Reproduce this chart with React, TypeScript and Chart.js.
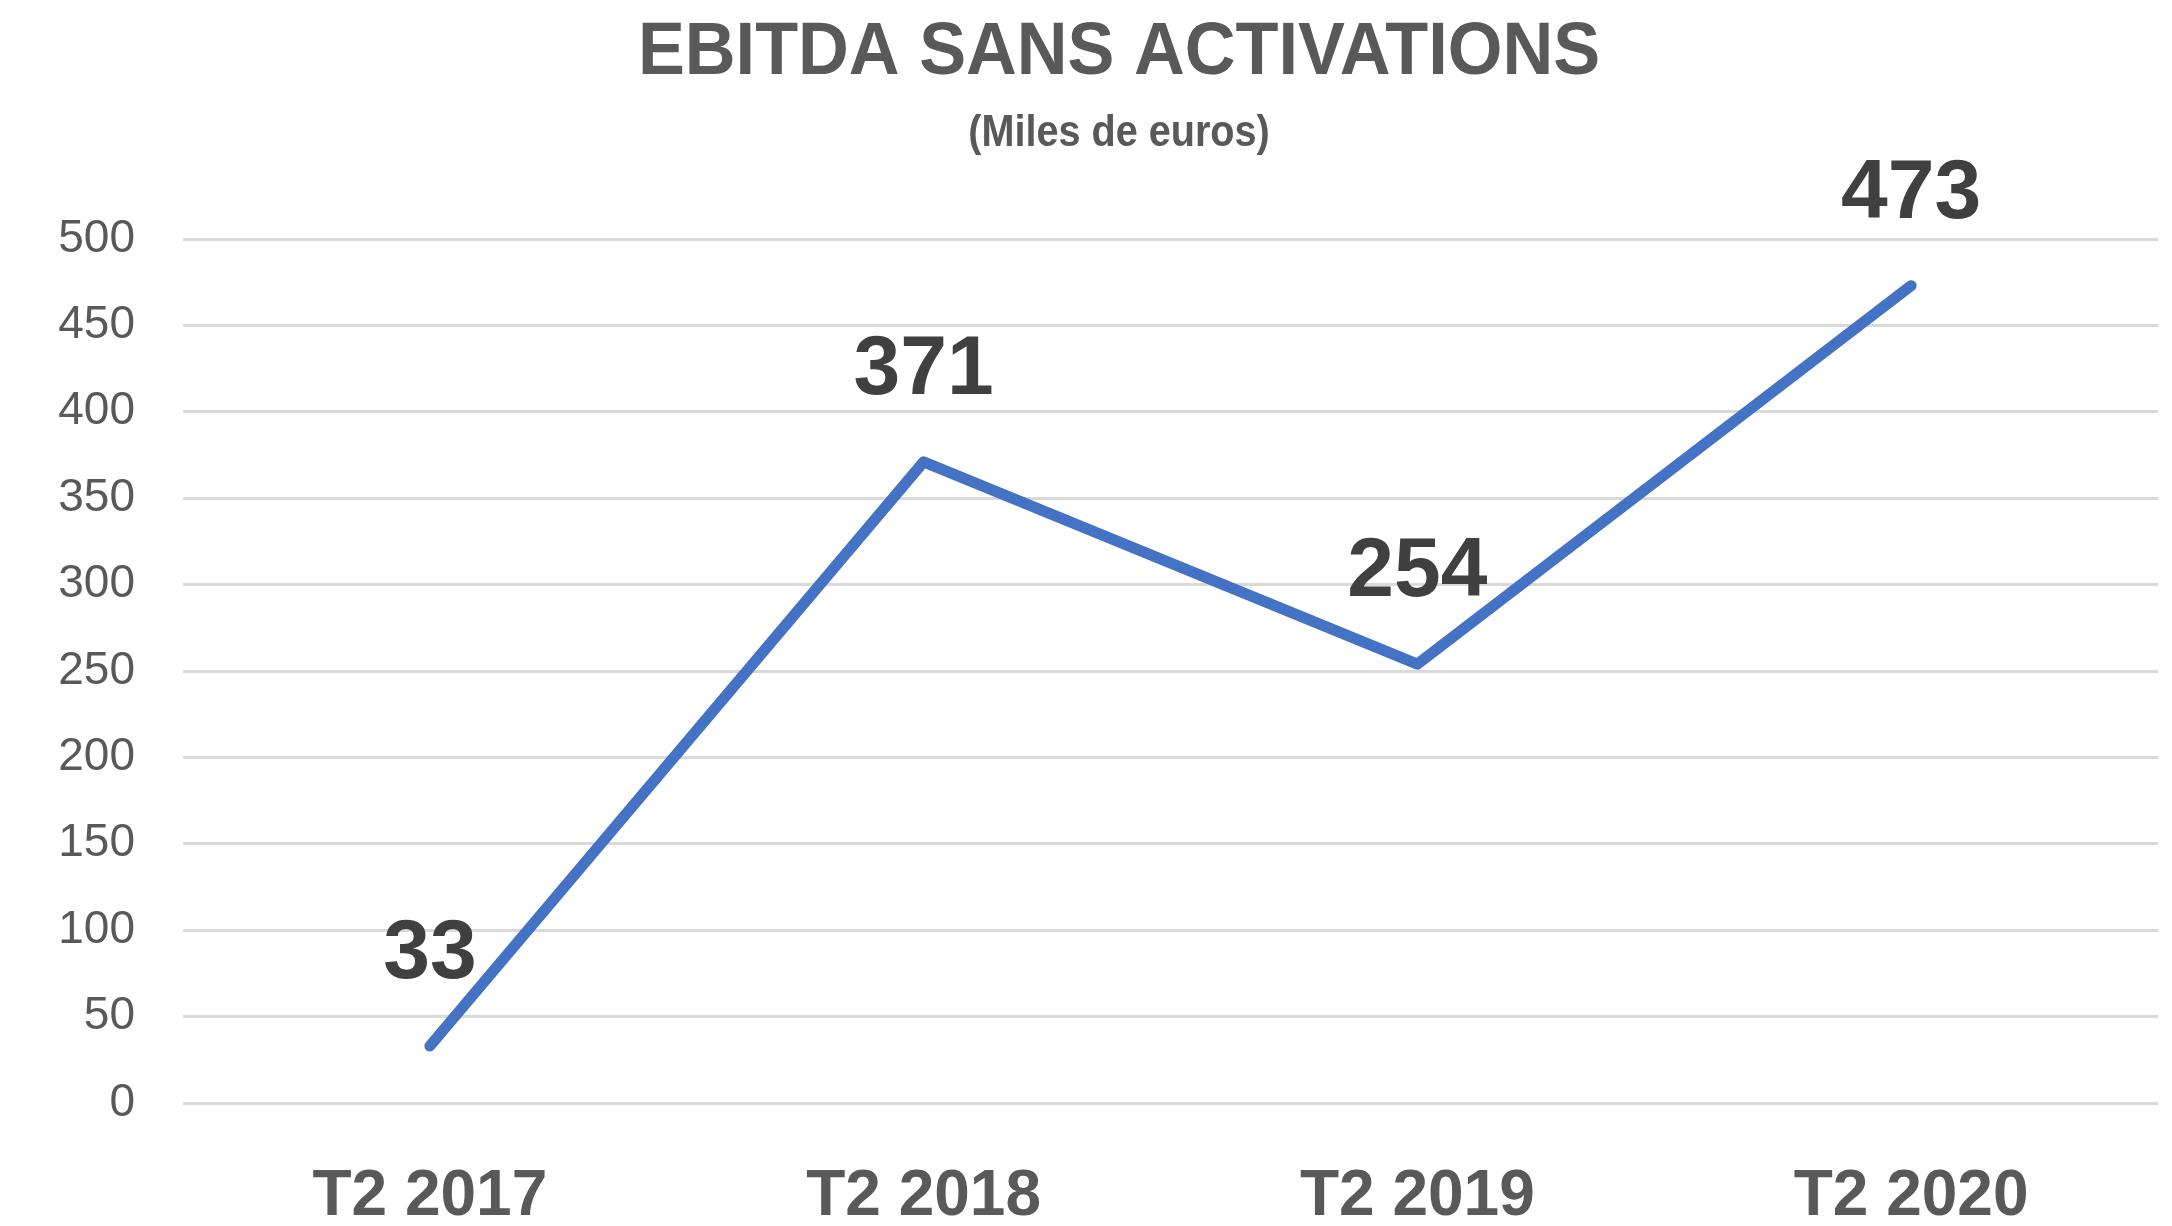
import React, { useEffect, useRef } from "react";
import { Chart, registerables } from "chart.js";

Chart.register(...registerables);

const categories = ["T2 2017", "T2 2018", "T2 2019", "T2 2020"];
const ebitdaValues = [33, 371, 254, 473];
const titleText = "EBITDA SANS ACTIVATIONS";
const subtitleText = "(Miles de euros)";

const SANS = '"Liberation Sans", Arial, sans-serif';

const textPlugin = {
  id: "textPlugin",
  afterDraw(chart: any) {
    const ctx = chart.ctx;
    ctx.save();
    ctx.textAlign = "center";
    ctx.textBaseline = "middle";
    ctx.fillStyle = "#595959";
    ctx.save();
    ctx.translate(1119, 54);
    ctx.scale(0.95, 1);
    ctx.font = `bold 74px ${SANS}`;
    ctx.fillText(titleText, 0, 0);
    ctx.restore();
    ctx.save();
    ctx.translate(1119, 134);
    ctx.scale(0.9, 1);
    ctx.font = `bold 44px ${SANS}`;
    ctx.fillText(subtitleText, 0, 0);
    ctx.restore();
    const meta = chart.getDatasetMeta(0);
    ctx.fillStyle = "#404040";
    ctx.font = `bold 84px ${SANS}`;
    meta.data.forEach((pt: any, i: number) => {
      ctx.fillText(String(ebitdaValues[i]), pt.x, pt.y - 91);
    });
    ctx.restore();
  },
};

export default function App() {
  const ref = useRef<HTMLCanvasElement | null>(null);
  useEffect(() => {
    document.body.style.margin = "0";
    const chart = new Chart(ref.current as HTMLCanvasElement, {
      type: "line",
      data: {
        labels: categories,
        datasets: [
          {
            data: ebitdaValues,
            borderColor: "#4472C4",
            borderWidth: 11,
            borderCapStyle: "round",
            borderJoinStyle: "round",
            pointRadius: 0,
            fill: false,
            tension: 0,
          },
        ],
      },
      options: {
        animation: false,
        responsive: false,
        devicePixelRatio: 1,
        layout: { padding: { top: 239, right: 14, left: 0, bottom: 0 } },
        plugins: { legend: { display: false }, tooltip: { enabled: false }, title: { display: false } },
        scales: {
          x: {
            offset: true,
            grid: { display: false },
            border: { display: false },
            ticks: {
              color: "#595959",
              font: { family: SANS, size: 64, weight: "bold" },
              padding: 48,
              maxRotation: 0,
            },
            afterFit(scale: any) {
              scale.height = 123;
            },
          },
          y: {
            min: 0,
            max: 500,
            border: { display: false },
            grid: { color: "#D9D9D9", lineWidth: 3, drawTicks: false },
            ticks: {
              stepSize: 50,
              color: "#595959",
              font: { family: SANS, size: 46 },
              padding: 48,
            },
            afterFit(scale: any) {
              scale.width = 183;
            },
          },
        },
      },
      plugins: [textPlugin],
    });
    return () => chart.destroy();
  }, []);
  return (
    <div style={{ position: "absolute", left: 0, top: 0, width: 2172, height: 1226 }}>
      <canvas ref={ref} width={2172} height={1226} style={{ width: 2172, height: 1226 }} />
    </div>
  );
}
